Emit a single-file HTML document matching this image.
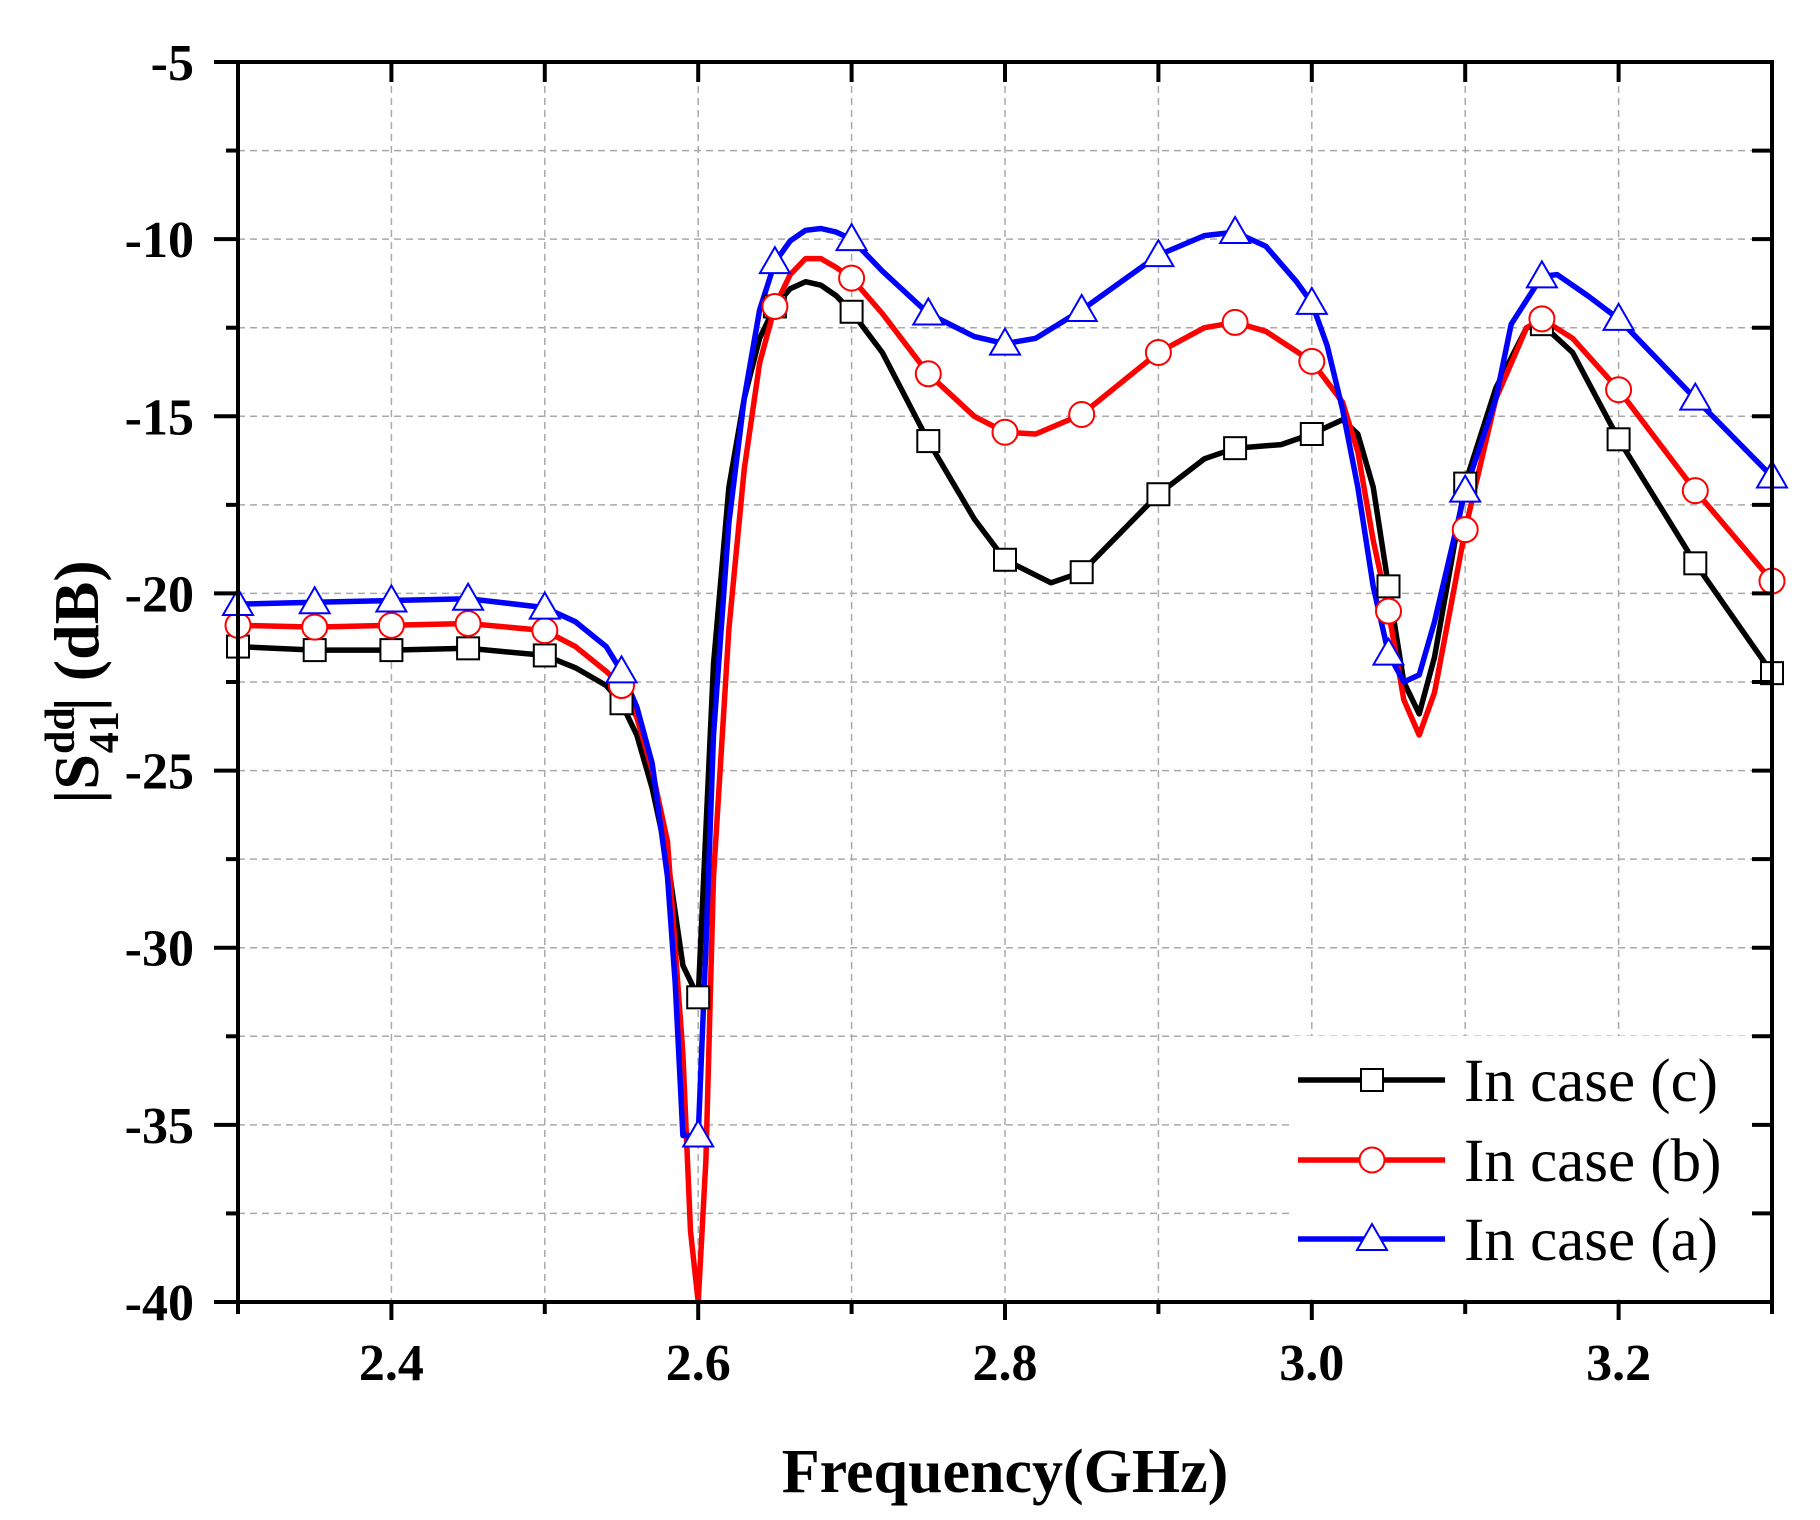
<!DOCTYPE html>
<html><head><meta charset="utf-8"><style>html,body{margin:0;padding:0;background:#fff}svg{display:block}</style></head>
<body>
<svg id="s" width="1820" height="1520" xmlns="http://www.w3.org/2000/svg" font-family="Liberation Serif, serif"></svg>
<script>
const L=238,R=1772,T=62,B=1302;
const X=f=>L+(f-2.3)/1.0*(R-L);
const Y=d=>T+(-5-d)/35*(B-T);
let s='';
for(let i=1;i<10;i++){const x=X(2.3+i*0.1);s+=`<line x1="${x}" y1="${T}" x2="${x}" y2="${B}" stroke="#aaa" stroke-width="1.5" stroke-dasharray="7,5"/>`;}
for(let i=1;i<14;i++){const y=Y(-5-i*2.5);s+=`<line x1="${L}" y1="${y}" x2="${R}" y2="${y}" stroke="#aaa" stroke-width="1.5" stroke-dasharray="7,5"/>`;}
s+=`<rect x="1290" y="1036" width="${R-1290-3}" height="${B-1036-3}" fill="#fff"/>`;
const black=[[2.3,-21.5],[2.35,-21.6],[2.4,-21.6],[2.45,-21.55],[2.5,-21.75],[2.52,-22.1],[2.54,-22.6],[2.55,-23.1],[2.56,-24],[2.57,-25.5],[2.58,-27.5],[2.59,-30.5],[2.6,-31.4],[2.61,-22],[2.62,-17],[2.63,-14.5],[2.64,-12.8],[2.65,-11.9],[2.66,-11.4],[2.67,-11.2],[2.68,-11.3],[2.69,-11.6],[2.7,-12.05],[2.72,-13.2],[2.75,-15.7],[2.78,-17.9],[2.8,-19.05],[2.83,-19.7],[2.85,-19.4],[2.9,-17.2],[2.93,-16.2],[2.95,-15.9],[2.98,-15.8],[3.0,-15.5],[3.02,-15.1],[3.03,-15.5],[3.04,-17],[3.05,-19.8],[3.06,-22.5],[3.07,-23.4],[3.08,-21.8],[3.1,-16.9],[3.12,-14.2],[3.14,-12.5],[3.15,-12.4],[3.17,-13.2],[3.2,-15.65],[3.25,-19.15],[3.3,-22.25]];
const red=[[2.3,-20.9],[2.35,-20.95],[2.4,-20.9],[2.45,-20.85],[2.5,-21.05],[2.52,-21.5],[2.54,-22.2],[2.55,-22.6],[2.56,-23.5],[2.57,-25],[2.58,-27],[2.59,-33],[2.595,-38],[2.6,-40],[2.605,-36],[2.61,-28],[2.62,-21],[2.63,-16.5],[2.64,-13.5],[2.65,-11.9],[2.66,-11],[2.67,-10.55],[2.68,-10.55],[2.69,-10.8],[2.7,-11.1],[2.72,-12.1],[2.75,-13.8],[2.78,-15],[2.8,-15.45],[2.82,-15.5],[2.85,-14.95],[2.9,-13.2],[2.93,-12.5],[2.95,-12.35],[2.97,-12.6],[3.0,-13.45],[3.02,-14.6],[3.03,-16],[3.04,-18.5],[3.05,-20.5],[3.06,-23],[3.07,-24],[3.08,-22.8],[3.1,-18.2],[3.12,-14.5],[3.14,-12.5],[3.15,-12.25],[3.17,-12.8],[3.2,-14.25],[3.25,-17.1],[3.3,-19.65]];
const blue=[[2.3,-20.3],[2.35,-20.25],[2.4,-20.2],[2.45,-20.15],[2.5,-20.4],[2.52,-20.8],[2.54,-21.5],[2.55,-22.2],[2.56,-23.2],[2.57,-24.8],[2.58,-28],[2.585,-31],[2.59,-35.3],[2.6,-35.3],[2.605,-30],[2.61,-24],[2.62,-18],[2.63,-14.5],[2.64,-12],[2.65,-10.65],[2.66,-10.05],[2.67,-9.75],[2.68,-9.7],[2.69,-9.8],[2.7,-10],[2.72,-10.9],[2.75,-12.1],[2.78,-12.75],[2.8,-12.95],[2.82,-12.8],[2.85,-12.0],[2.9,-10.45],[2.93,-9.9],[2.95,-9.8],[2.97,-10.2],[2.99,-11.2],[3.0,-11.8],[3.01,-13],[3.02,-14.8],[3.03,-17],[3.04,-19.8],[3.05,-21.7],[3.06,-22.5],[3.07,-22.3],[3.08,-20.8],[3.1,-17.1],[3.12,-14.5],[3.13,-12.4],[3.15,-11.05],[3.16,-11],[3.18,-11.6],[3.2,-12.25],[3.25,-14.5],[3.3,-16.7]];
function sq(x,y){return `<rect x="${x-11}" y="${y-11}" width="22" height="22" fill="#fff" stroke="#000" stroke-width="2"/>`;}
function ci(x,y){return `<circle cx="${x}" cy="${y}" r="12.5" fill="#fff" stroke="#f00" stroke-width="2"/>`;}
function tr(x,y){return `<polygon points="${x},${y-15} ${x-15},${y+11} ${x+15},${y+11}" fill="#fff" stroke="#00f" stroke-width="2"/>`;}
function series(d,c){
  s+=`<polyline fill="none" stroke="${c}" stroke-width="5.5" stroke-linejoin="round" points="${d.map(p=>X(p[0]).toFixed(1)+','+Y(p[1]).toFixed(1)).join(' ')}"/>`;
}
function marks(d,m){d.forEach(p=>{const k=Math.round(p[0]*100);if(k%5===0&&Math.abs(p[0]*100-k)<1e-6&&p[1]>-39)s+=m(X(p[0]),Y(p[1]));});}
series(black,'#000');series(red,'#f00');series(blue,'#00f');
marks(black,sq);marks(red,ci);marks(blue,tr);
s+=`<rect x="${L}" y="${T}" width="${R-L}" height="${B-T}" fill="none" stroke="#000" stroke-width="4"/>`;
for(let i=0;i<=10;i++){const x=X(2.3+i*0.1);const maj=(i%2==1);
 s+=`<line x1="${x}" y1="${B}" x2="${x}" y2="${B+(maj?18:12)}" stroke="#000" stroke-width="4"/>`;
 s+=`<line x1="${x}" y1="${T}" x2="${x}" y2="${T+20}" stroke="#000" stroke-width="4"/>`;
 if(maj) s+=`<text x="${x}" y="${B+78}" font-size="52" font-weight="bold" text-anchor="middle">${(2.3+i*0.1).toFixed(1)}</text>`;}
for(let i=0;i<=14;i++){const y=Y(-5-i*2.5);const maj=(i%2==0);
 s+=`<line x1="${L}" y1="${y}" x2="${L-(maj?24:12)}" y2="${y}" stroke="#000" stroke-width="4"/>`;
 s+=`<line x1="${R}" y1="${y}" x2="${R-20}" y2="${y}" stroke="#000" stroke-width="4"/>`;
 if(maj) s+=`<text x="194" y="${y+18}" font-size="52" font-weight="bold" text-anchor="end">${-5-i*2.5}</text>`;}
s+=`<text x="${(L+R)/2}" y="1492" font-size="62" font-weight="bold" text-anchor="middle">Frequency(GHz)</text>`;
s+=`<text transform="translate(98,682) rotate(-90)" font-size="64" font-weight="bold" text-anchor="middle">|S<tspan font-size="42" dy="-24">dd</tspan><tspan font-size="42" dx="-46" dy="44">41</tspan><tspan dy="-20">| (dB)</tspan></text>`;
const lg=[['#000',sq,'In case (c)',1080],['#f00',ci,'In case (b)',1160],['#00f',tr,'In case (a)',1239]];
lg.forEach(([c,m,t,y])=>{s+=`<line x1="1298" y1="${y}" x2="1445" y2="${y}" stroke="${c}" stroke-width="5.5"/>`+m(1372,y)+`<text x="1464" y="${y+21}" font-size="61">${t}</text>`;});
document.getElementById('s').innerHTML=s;
</script>
</body></html>
